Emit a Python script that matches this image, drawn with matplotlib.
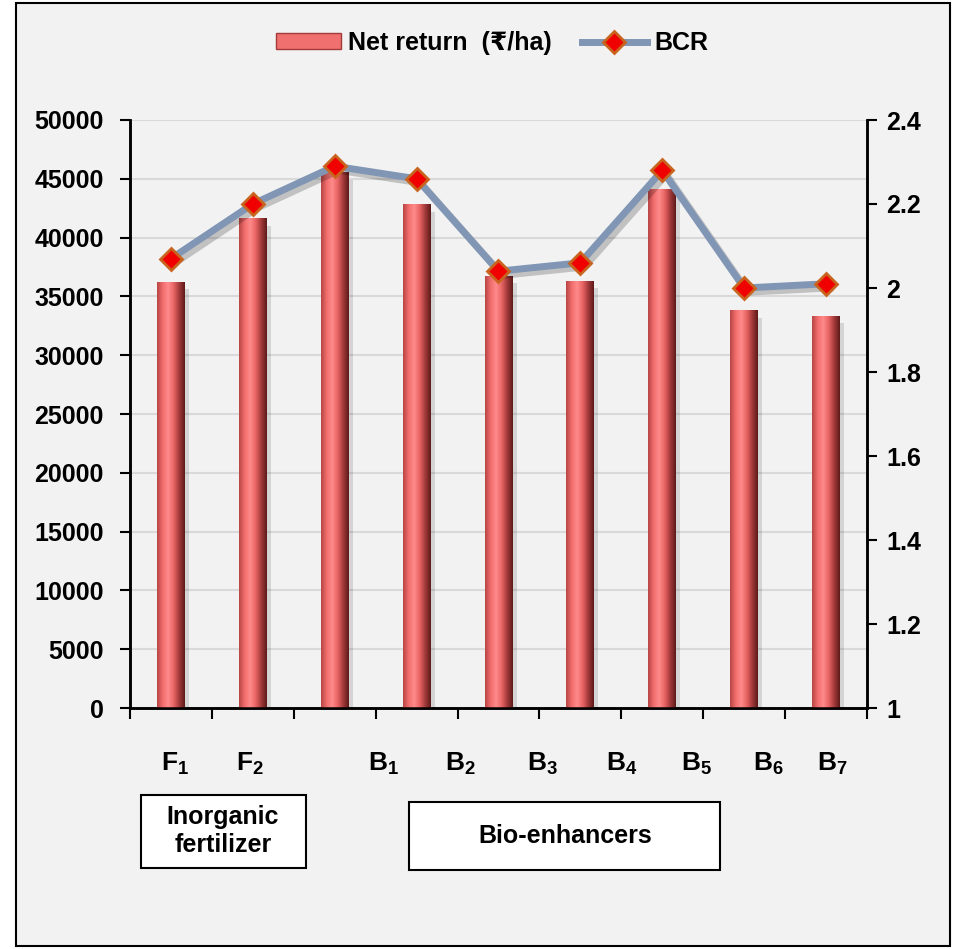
import numpy as np
import matplotlib.pyplot as plt
from matplotlib.patches import Rectangle, Patch
from matplotlib.lines import Line2D
from matplotlib.colors import LinearSegmentedColormap
import matplotlib.patheffects as pe

plt.rcParams['font.family'] = ['Liberation Sans', 'DejaVu Sans']
plt.rcParams['font.weight'] = 'bold'
plt.rcParams['mathtext.fontset'] = 'custom'
plt.rcParams['mathtext.rm'] = 'Liberation Sans:bold'
plt.rcParams['mathtext.bf'] = 'Liberation Sans:bold'
plt.rcParams['mathtext.it'] = 'Liberation Sans:bold'

# net return (Rs/ha) and benefit-cost ratio per treatment
net_return = [36200, 41600, 45500, 42800, 36700, 36300, 44100, 33800, 33300]
bcr = [2.07, 2.20, 2.29, 2.26, 2.04, 2.06, 2.28, 2.00, 2.01]
# x labels as they sit in the original (not centred on bars)
tick_labels = [r'$F_1$', r'$F_2$', r'$B_1$', r'$B_2$', r'$B_3$',
               r'$B_4$', r'$B_5$', r'$B_6$', r'$B_7$']
label_pos = [0.05, 0.96, 2.6, 3.53, 4.53, 5.5, 6.42, 7.3, 8.08]
right_ticks = [1, 1.2, 1.4, 1.6, 1.8, 2, 2.2, 2.4]
right_labels = ['1', '1.2', '1.4', '1.6', '1.8', '2', '2.2', '2.4']

FS = 18
bg = '#F2F2F2'

fig = plt.figure(figsize=(9.54, 9.49), dpi=100, facecolor='white')
# outer frame
fig.patches.append(Rectangle((16/954, 3/949), 934/954, 943/949, transform=fig.transFigure,
                             facecolor=bg, edgecolor='black', lw=1.5, zorder=-10))

ax = fig.add_axes([130/954, 1-708/949, 737/954, 588/949])
ax.set_facecolor('none')
ax2 = ax.twinx()

x = np.arange(len(net_return))
w = 0.34

# cylinder-like bars: horizontal gradient image per bar
cmap = LinearSegmentedColormap.from_list('cyl', ['#B84545', '#F26E6E', '#FF8A8A', '#E86464', '#A33A3A', '#5E1A1A'])
grad = np.linspace(0, 1, 64).reshape(1, -1)
for xi, h in zip(x, net_return):
    ax.imshow(grad, cmap=cmap, extent=[xi - w/2, xi + w/2, 0, h], aspect='auto', zorder=3,
              interpolation='bilinear')
    # soft shadow on right
    ax.add_patch(Rectangle((xi + w/2, 0), 0.05, h - 600, facecolor='#000000', alpha=0.12, lw=0, zorder=2))

ax.set_xlim(-0.5, len(net_return) - 0.5)
ax.set_ylim(0, 50000)
ax.set_yticks(np.arange(0, 50001, 5000))
ax.yaxis.grid(True, color='#D9D9D9', lw=1.5, zorder=0)
ax.set_axisbelow(True)
ax.set_xticks(np.arange(-0.5, len(net_return), 1))
ax.set_xticklabels([])
ax.tick_params(axis='x', length=8, width=1.5, direction='out')
ax.tick_params(axis='y', length=7, width=1.5, direction='out', labelsize=FS, pad=12)
for lab in ax.get_yticklabels():
    lab.set_fontweight('bold')

ax2.plot(x, bcr, color='#8096B4', lw=5, solid_joinstyle='round', zorder=4,
         path_effects=[pe.SimpleLineShadow(offset=(3, -3), alpha=0.2), pe.Normal()])
ax2.plot(x, bcr, linestyle='none', marker='D', markersize=11, markerfacecolor='#F00000',
         markeredgecolor='#C8641E', markeredgewidth=2, zorder=5)
ax2.set_ylim(1, 2.4)
ax2.set_yticks(right_ticks)
ax2.set_yticklabels(right_labels, fontsize=FS, fontweight='bold')
ax2.tick_params(axis='y', length=7, width=1.5, direction='out', pad=7)

for a in (ax, ax2):
    a.spines['top'].set_visible(False)
    for s in ('left', 'right', 'bottom'):
        a.spines[s].set_linewidth(1.8)
        a.spines[s].set_color('black')

for p, t in zip(label_pos, tick_labels):
    ax.text(p, -0.095, t, transform=ax.get_xaxis_transform(), ha='center', va='center',
            fontsize=FS + 1)

# group boxes
fig.patches.append(Rectangle((141/954, 1-868/949), 165/954, 73/949, transform=fig.transFigure,
                             facecolor='white', edgecolor='black', lw=1.5))
fig.text(223/954, 1-831/949, 'Inorganic\nfertilizer', ha='center', va='center', fontsize=FS,
         linespacing=1.2)
fig.patches.append(Rectangle((409/954, 1-870/949), 311/954, 68/949, transform=fig.transFigure,
                             facecolor='white', edgecolor='black', lw=1.5))
fig.text(565/954, 1-836/949, 'Bio-enhancers', ha='center', va='center', fontsize=FS)

handles = [Patch(facecolor='#F07070', edgecolor='#A33A3A', lw=1),
           Line2D([0], [0], color='#8096B4', lw=5, marker='D', markersize=11,
                  markerfacecolor='#F00000', markeredgecolor='#C8641E', markeredgewidth=2)]
fig.legend(handles, ['Net return  (₹/ha)', 'BCR'], loc='center', bbox_to_anchor=(492/954, 1-43/949),
           ncol=2, frameon=False, fontsize=FS, handlelength=2.6, handleheight=0.6,
           columnspacing=1.2, handletextpad=0.3)

fig.savefig('out.png', dpi=100, facecolor='white')
